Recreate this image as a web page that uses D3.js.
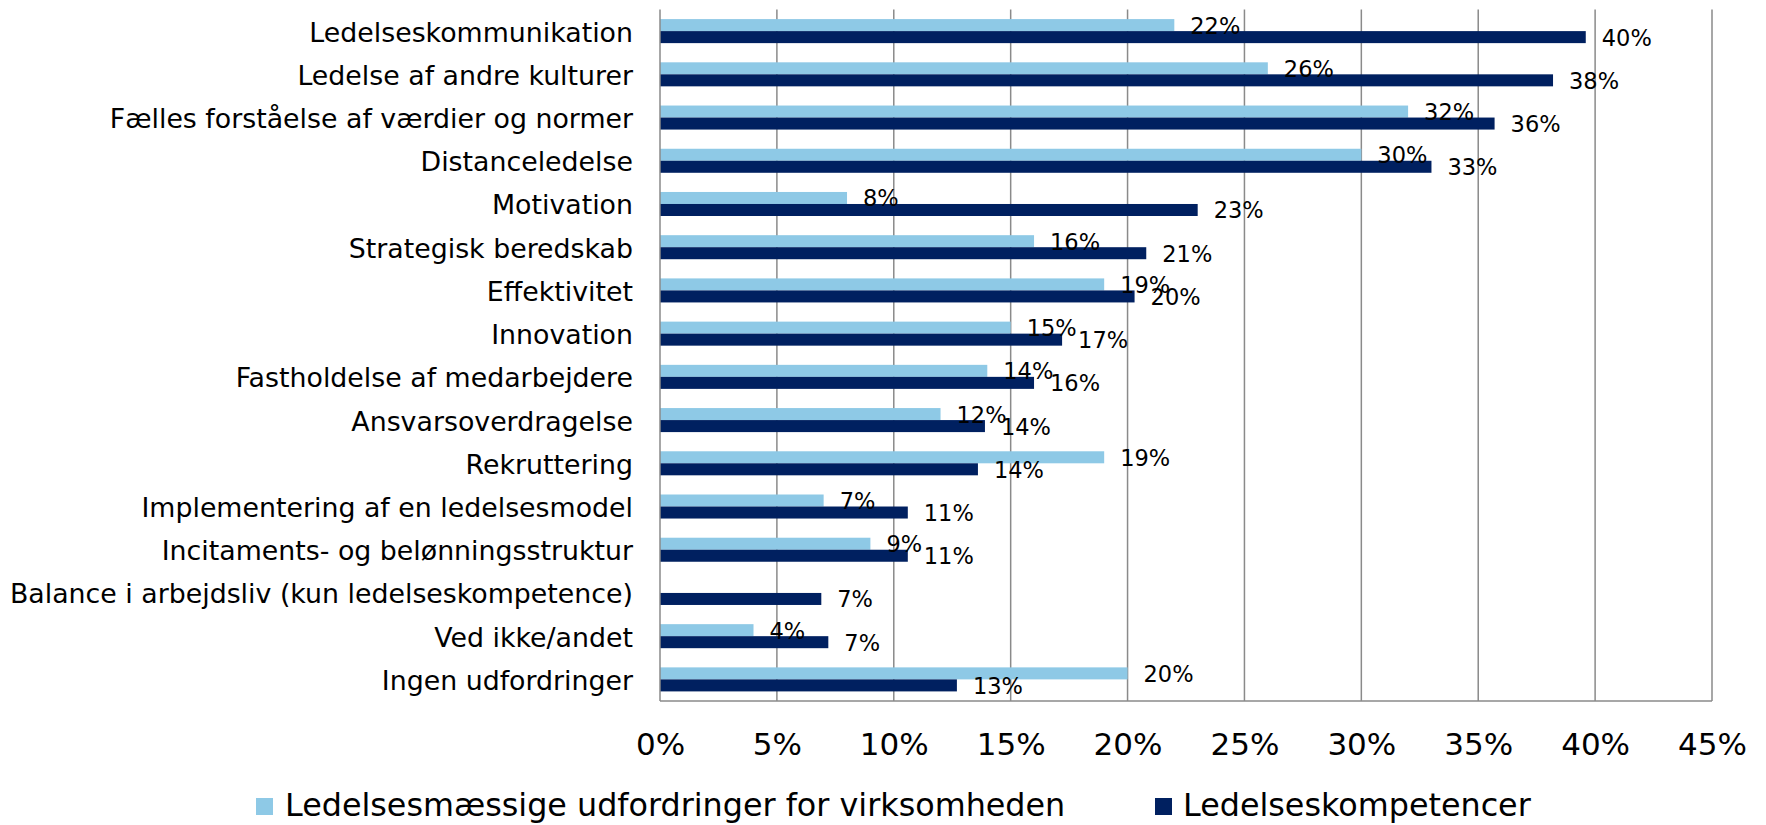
<!DOCTYPE html>
<html>
<head>
<meta charset="utf-8">
<script src="https://cdn.jsdelivr.net/npm/d3@7"></script>
<style>
  body { margin: 0; background: #fff; }
  text { font-family: "DejaVu Sans", Verdana, sans-serif; fill: #000; }
</style>
</head>
<body>
<svg id="chart" width="1766" height="825"></svg>
<script>
// Categories, top to bottom
const categories = [
  "Ledelseskommunikation",
  "Ledelse af andre kulturer",
  "Fælles forståelse af værdier og normer",
  "Distanceledelse",
  "Motivation",
  "Strategisk beredskab",
  "Effektivitet",
  "Innovation",
  "Fastholdelse af medarbejdere",
  "Ansvarsoverdragelse",
  "Rekruttering",
  "Implementering af en ledelsesmodel",
  "Incitaments- og belønningsstruktur",
  "Balance i arbejdsliv (kun ledelseskompetence)",
  "Ved ikke/andet",
  "Ingen udfordringer"
];

// Percent values per series
const challenges  = [22, 26, 32, 30, 8, 16, 19, 15, 14, 12, 19, 7, 9, null, 4, 20];
const competences = [39.6, 38.2, 35.7, 33.0, 23.0, 20.8, 20.3, 17.2, 16.0, 13.9, 13.6, 10.6, 10.6, 6.9, 7.2, 12.7];

const seriesNames  = ["Ledelsesmæssige udfordringer for virksomheden", "Ledelseskompetencer"];
const seriesColors = ["#8EC9E6", "#002060"];
const seriesValues = [challenges, competences];

const tickValues = [0, 5, 10, 15, 20, 25, 30, 35, 40, 45];

const svg = d3.select("#chart");

const plot = { left: 660, right: 1712, top: 9.5, bottom: 701 };

const x = d3.scaleLinear().domain([0, 45]).range([plot.left, plot.right]);
const y = d3.scaleBand().domain(categories).range([plot.top, plot.bottom]);
const bw = y.bandwidth();
const ys = d3.scaleBand().domain([0, 1]).range([bw * 0.222, bw * 0.778]);

// Vertical gridlines
svg.append("g")
  .selectAll("line")
  .data(tickValues.slice(1))
  .join("line")
  .attr("x1", d => x(d)).attr("x2", d => x(d))
  .attr("y1", plot.top).attr("y2", plot.bottom)
  .attr("stroke", "#8a8a8a").attr("stroke-width", 1.5);

// Bars
const rows = categories.map((c, i) => ({ cat: c, vals: seriesValues.map(s => s[i]) }));

const rowG = svg.append("g")
  .selectAll("g")
  .data(rows)
  .join("g")
  .attr("transform", d => `translate(0,${y(d.cat)})`);

rowG.selectAll("rect")
  .data(d => d.vals.map((v, k) => ({ v, k })).filter(e => e.v !== null))
  .join("rect")
  .attr("x", x(0))
  .attr("y", e => ys(e.k))
  .attr("width", e => x(e.v) - x(0))
  .attr("height", ys.bandwidth())
  .attr("fill", e => seriesColors[e.k]);

// Value labels
rowG.selectAll("text.val")
  .data(d => d.vals.map((v, k) => ({ v, k })).filter(e => e.v !== null))
  .join("text")
  .attr("class", "val")
  .attr("x", e => x(e.v) + 16)
  .attr("y", e => ys(e.k) + ys.bandwidth() / 2 + 8.5)
  .attr("font-size", 22.5)
  .text(e => Math.round(e.v) + "%");

// Category labels
svg.append("g")
  .selectAll("text")
  .data(categories)
  .join("text")
  .attr("x", 633)
  .attr("y", d => y(d) + bw / 2 + 10.5)
  .attr("text-anchor", "end")
  .attr("font-size", 26.8)
  .text(d => d);

// Axis lines
svg.append("line")
  .attr("x1", plot.left).attr("x2", plot.left)
  .attr("y1", plot.top).attr("y2", plot.bottom)
  .attr("stroke", "#8a8a8a").attr("stroke-width", 1.5);
svg.append("line")
  .attr("x1", plot.left).attr("x2", plot.right)
  .attr("y1", plot.bottom).attr("y2", plot.bottom)
  .attr("stroke", "#8a8a8a").attr("stroke-width", 1.5);

// X axis tick labels
const xAxis = svg.append("g")
  .attr("transform", `translate(0,${plot.bottom})`)
  .call(d3.axisBottom(x).tickValues(tickValues).tickFormat(d => d + "%").tickSize(0).tickPadding(32));
xAxis.select(".domain").remove();
xAxis.selectAll("text")
  .attr("font-size", 31)
  .attr("font-family", "DejaVu Sans, Verdana, sans-serif")
  .attr("fill", "#000");

// Legend
const legendItems = [
  { name: seriesNames[0], color: seriesColors[0], sx: 256, tx: 285 },
  { name: seriesNames[1], color: seriesColors[1], sx: 1155, tx: 1183 }
];
const lg = svg.append("g").selectAll("g").data(legendItems).join("g");
lg.append("rect")
  .attr("x", d => d.sx).attr("y", 798)
  .attr("width", 17).attr("height", 17)
  .attr("fill", d => d.color);
lg.append("text")
  .attr("x", d => d.tx).attr("y", 816)
  .attr("font-size", 31.8)
  .text(d => d.name);
</script>
</body>
</html>
